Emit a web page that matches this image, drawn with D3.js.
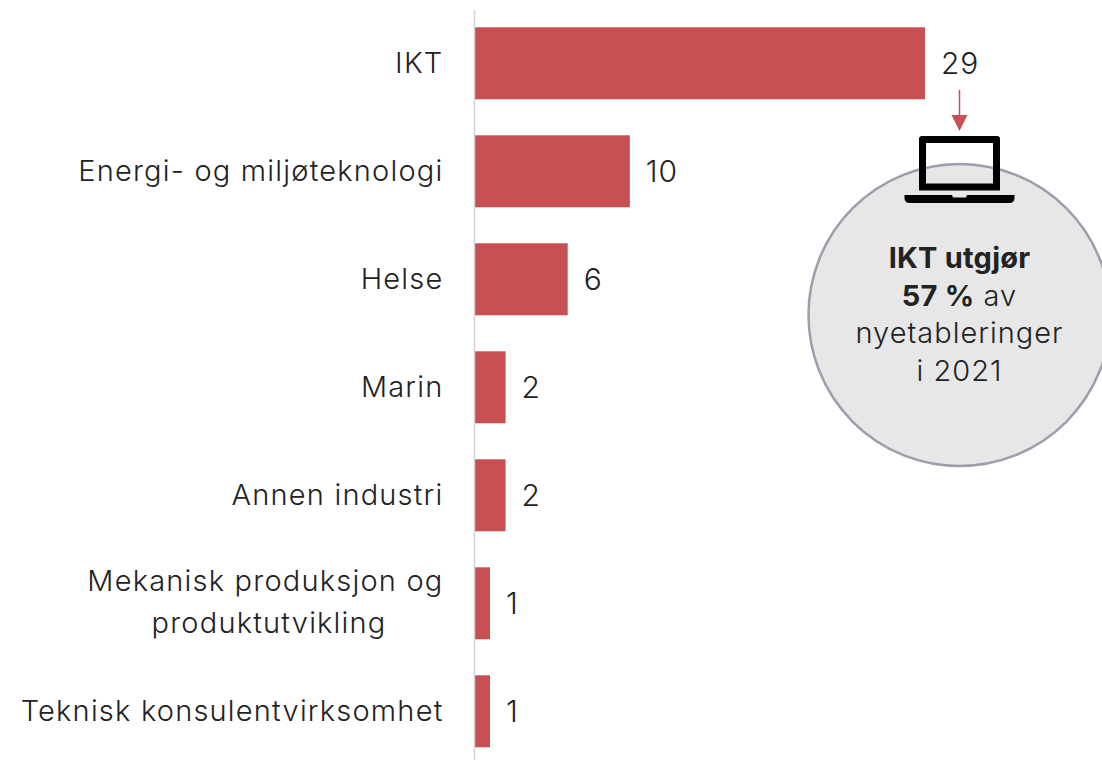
<!DOCTYPE html>
<html>
<head>
<meta charset="utf-8">
<script src="https://cdn.jsdelivr.net/npm/d3@7"></script>
<style>
html, body { margin:0; padding:0; background:#fff; }
svg { display:block; }
text { font-family:"Inter", sans-serif; font-weight:300; fill:#222; }
</style>
</head>
<body>
<svg width="1102" height="760"></svg>
<script>
var categories = ["IKT","Energi- og miljøteknologi","Helse","Marin","Annen industri","Mekanisk produksjon og|produktutvikling","Teknisk konsulentvirksomhet"];
var values = [29,10,6,2,2,1,1];
var calloutLines = [
	[{t:"IKT utgjør",b:true}],
	[{t:"57 %",b:true},{t:" av",b:false}],
	[{t:"nyetableringer",b:false}],
	[{t:"i 2021",b:false}]
];

var svg = d3.select("svg");

var x = d3.scaleLinear().domain([0,29]).range([474.5,925]);
var y = d3.scaleBand().domain(categories).range([9.3,765.3]).paddingInner(1/3).paddingOuter(1/6);

svg.selectAll("rect.bar").data(values)
	.enter().append("rect")
	.attr("class","bar")
	.attr("x", x(0))
	.attr("y", function(d,i){ return y(categories[i]) })
	.attr("width", function(d){ return x(d)-x(0) })
	.attr("height", y.bandwidth())
	.attr("fill","#c75052");

var axis = svg.append("g")
	.attr("transform","translate(474,0)")
	.call(d3.axisLeft(y).tickSize(0).tickPadding(30));
axis.select(".domain").attr("stroke","#d4d4d4").attr("stroke-width",1.5);
axis.selectAll("text")
	.style("font-size","29px")
	.style("letter-spacing","1.2px")
	.attr("fill","#222")
	.each(function(d){
		var parts = d.split("|");
		var t = d3.select(this).text(null).attr("dy",null);
		if(parts.length==1){
			t.append("tspan").attr("x",-30.5).attr("dy","0.33em").text(parts[0]);
		}else{
			t.append("tspan").attr("x",-30.5).attr("dy","-0.44em").text(parts[0]);
			t.append("tspan").attr("x",-30.5-57).attr("dy","1.45em").text(parts[1]);
		}
	});

svg.selectAll("text.val").data(values)
	.enter().append("text")
	.attr("class","val")
	.attr("x", function(d){ return x(d)+16 })
	.attr("y", function(d,i){ return y(categories[i])+y.bandwidth()/2 })
	.attr("dy","0.37em")
	.style("font-size","30px")
	.style("letter-spacing","0.8px")
	.text(function(d){ return d });

// callout circle
svg.append("circle")
	.attr("cx",959.5).attr("cy",315).attr("r",151)
	.attr("fill","#e7e7e8").attr("stroke","#9d9dac").attr("stroke-width",2.5);

// arrow
svg.append("line")
	.attr("x1",959.5).attr("x2",959.5).attr("y1",90).attr("y2",117)
	.attr("stroke","#c75052").attr("stroke-width",1.5);
svg.append("path").attr("d","M951.5 115 L967.5 115 L959.5 131 Z").attr("fill","#c75052");

// laptop
svg.append("path")
	.attr("fill-rule","evenodd")
	.attr("fill","#000")
	.attr("d","M922 136 H997 Q1000 136 1000 139 V190.5 H919 V139 Q919 136 922 136 Z M926 143 V183.5 H993 V143 Z");
svg.append("path")
	.attr("fill","#000")
	.attr("d","M904.5 195 H952 L953 197.5 H966 L967 195 H1014.5 V198 Q1014.5 203 1009 203 H910 Q904.5 203 904.5 198 Z");

var lines = svg.selectAll("text.call").data(calloutLines)
	.enter().append("text")
	.attr("class","call")
	.attr("x",959.5)
	.attr("y",function(d,i){ return 268+i*37.7 })
	.attr("text-anchor","middle")
	.style("font-size","29px");
lines.selectAll("tspan").data(function(d){ return d })
	.enter().append("tspan")
	.style("font-weight",function(d){ return d.b ? 700 : 300 })
	.style("letter-spacing",function(d){ return d.b ? "0.2px" : "1px" })
	.text(function(d){ return d.t });
</script>
</body>
</html>
